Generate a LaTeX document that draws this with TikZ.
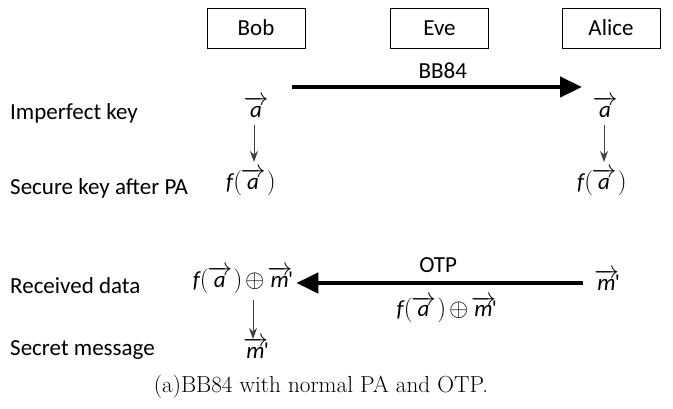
\documentclass[tikz,border=0pt]{standalone}
\usepackage{fontspec}
\usepackage{amsmath}
\usepackage{xcolor}
\usepackage{tikz}
\usetikzlibrary{arrows.meta}
\newfontfamily\calfont{Carlito}
\definecolor{arrgray}{HTML}{404040}
\newcommand{\va}{\overrightarrow{\textit{a}}}
\newcommand{\vm}{\overrightarrow{\textit{m}}\mkern-3mu\text{'}}
\newcommand{\fa}{\textit{f}(\mkern-1mu\va\mkern1mu)}
\newcommand{\xr}{\mathbin{\mkern-2mu\oplus\mkern-2mu}}

\tikzset{
  party/.style={draw, line width=0.9pt, minimum width=98pt, minimum height=40pt, font=\calfont\fontsize{23}{27}\selectfont},
  lbl/.style={font=\calfont\fontsize{23}{27}\selectfont, inner sep=0pt},
  rowlbl/.style={lbl, anchor=west},
  bigarrow/.style={line width=4.5pt, -{Triangle[length=22pt,width=20pt]}},
  smallarrow/.style={arrgray, line width=1pt, -{Stealth[length=11pt,width=8pt]}}
}

\begin{document}
\begin{tikzpicture}[x=1pt,y=-1pt]
                \useasboundingbox (0,0) rectangle (673,409);
                % parties
                \node[party] (bob) at (256,28) {Bob};
                \node[party] (eve) at (439.5,28) {Eve};
                \node[party] (alice) at (611,28) {Alice};
                % row labels
                \node[rowlbl] (imp) at (10,113) {Imperfect key};
                \node[rowlbl] (sec) at (10,188) {Secure key after PA};
                \node[rowlbl] (rec) at (10,286) {Received data};
                \node[rowlbl] (msg) at (10,350) {Secret message};
                % keys
                \node[lbl] (bka) at (256,107) {$\va$};
                \node[lbl] (aka) at (605,107) {$\va$};
                \node[lbl] (bfa) at (251,182) {$\fa$};
                \node[lbl] (afa) at (602,182) {$\fa$};
                \node[lbl] (bdata) at (243,280) {$\fa\xr\vm$};
                \node[lbl] (am) at (607,280) {$\vm$};
                \node[lbl] (bm) at (256,348) {$\vm$};
                % BB84
                \coordinate (bbs) at (292,87);
                \coordinate (bbe) at (582,87);
                \draw[bigarrow] (bbs) -- (bbe) node[lbl, pos=0.52, above=6pt] (bb) {BB84};
                % OTP
                \coordinate (otps) at (583,283);
                \draw[bigarrow, shorten >=3pt] (otps) -- (bdata.east |- otps) node[lbl, midway, above=8pt] (otp) {OTP}
                  node[lbl, pos=0.47, below=11pt] (otpd) {$\fa\xr\vm$};
                % local steps
                \coordinate (b1) at (254,125);
                \coordinate (b2) at (254,162);
                \coordinate (a1) at (604,125);
                \coordinate (a2) at (604,162);
                \coordinate (r1) at (253,300);
                \coordinate (r2) at (253,339);
                \draw[smallarrow] (b1) -- (b2);
                \draw[smallarrow] (a1) -- (a2);
                \draw[smallarrow] (r1) -- (r2);
                % caption
                \node[font=\fontsize{23.2}{26}\selectfont] (cap) at (321,387) {(a)BB84 with normal PA and OTP.};
            \end{tikzpicture}
\end{document}
